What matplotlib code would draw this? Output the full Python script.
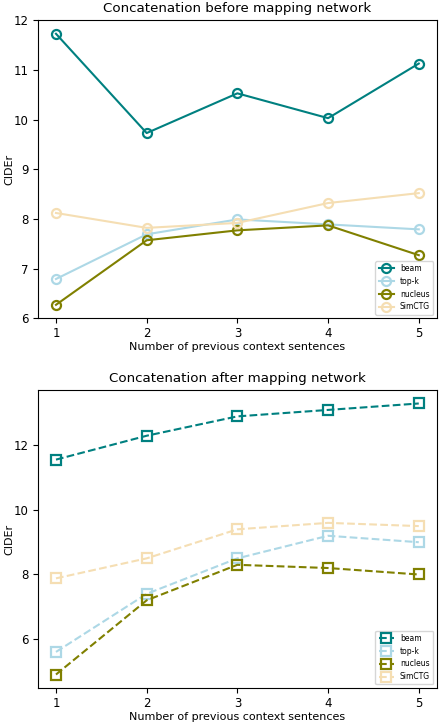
import numpy as np
import matplotlib
matplotlib.use("Agg")
import matplotlib.pyplot as plt

x = [1, 2, 3, 4, 5]
labels = ["beam", "top-k", "nucleus", "SimCTG"]
colors = ["teal", "lightblue", "olive", "wheat"]

# before mapping network
before_beam = [11.73, 9.73, 10.53, 10.03, 11.13]
before_topk = [6.79, 7.69, 7.99, 7.89, 7.79]
before_nucleus = [6.27, 7.57, 7.77, 7.87, 7.27]
before_simctg = [8.12, 7.82, 7.92, 8.32, 8.52]

# after mapping network
after_beam = [11.56, 12.30, 12.90, 13.10, 13.30]
after_topk = [5.60, 7.40, 8.50, 9.20, 9.00]
after_nucleus = [4.90, 7.20, 8.30, 8.20, 8.00]
after_simctg = [7.88, 8.50, 9.40, 9.60, 9.50]

fig, (ax1, ax2) = plt.subplots(2, 1, figsize=(4.4, 7.22), dpi=100)

for ys, lab, c in zip([before_beam, before_topk, before_nucleus, before_simctg], labels, colors):
    ax1.plot(x, ys, '-', color=c, marker='o', mfc='none', mec=c, ms=6.5, mew=1.6, lw=1.5, label=lab)
ax1.set_title("Concatenation before mapping network", fontsize=9.6)
ax1.set_xticks(x)

for ys, lab, c in zip([after_beam, after_topk, after_nucleus, after_simctg], labels, colors):
    ax2.plot(x, ys, '--', color=c, marker='s', mfc='none', mec=c, ms=6.5, mew=1.6, lw=1.5, label=lab)
ax2.set_title("Concatenation after mapping network", fontsize=9.6)
ax2.set_xticks(x)

for ax in (ax1, ax2):
    ax.set_xlabel("Number of previous context sentences", fontsize=8, labelpad=1.5)
    ax.set_ylabel("CIDEr", fontsize=8)
    ax.yaxis.set_label_coords(-0.06, 0.5)
    ax.tick_params(labelsize=8.5, pad=3)
    ax.legend(loc='lower right', fontsize=5.5)

fig.subplots_adjust(left=0.086, right=0.993, top=0.972, bottom=0.047, hspace=0.24)
fig.savefig("out.png")
